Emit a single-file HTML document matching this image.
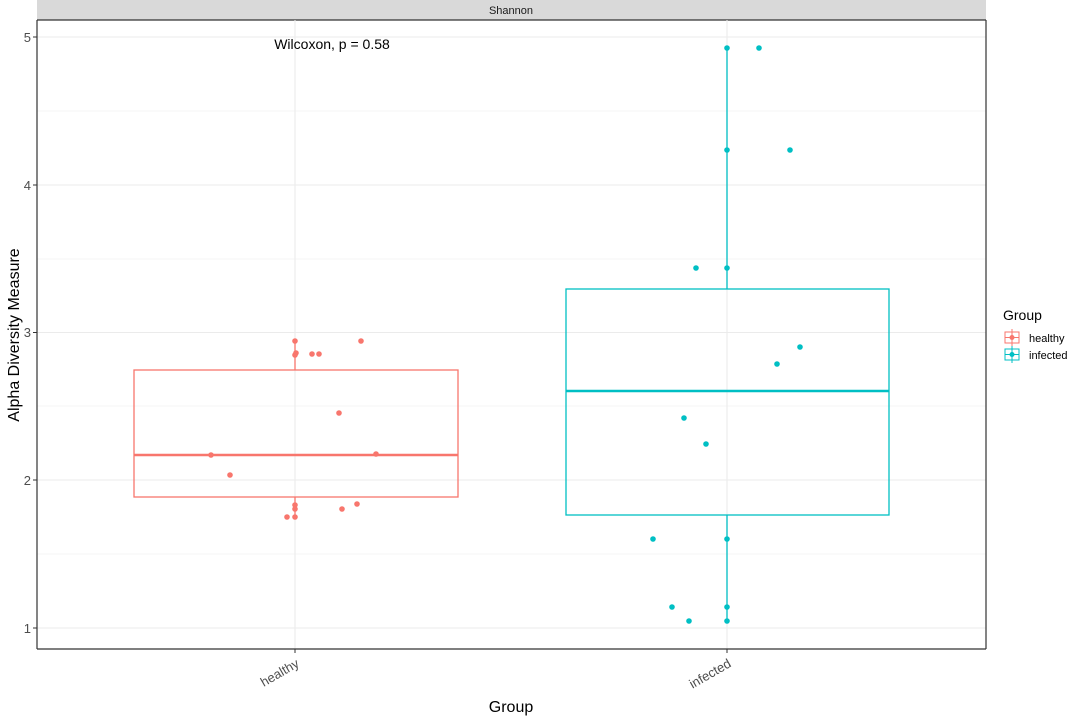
<!DOCTYPE html>
<html><head><meta charset="utf-8"><style>body{margin:0;background:#fff}svg{display:block;font-family:"Liberation Sans",sans-serif}</style></head><body>
<svg width="1080" height="721" viewBox="0 0 1080 721">
<rect x="37" y="0" width="949" height="20" fill="#d9d9d9"/>
<line x1="37" y1="20" x2="986" y2="20" stroke="#333" stroke-width="1.2"/>
<text x="511" y="14" font-size="11" text-anchor="middle" fill="#1a1a1a">Shannon</text>
<g stroke="#ebebeb" stroke-width="0.6">
<line x1="37" x2="986" y1="111" y2="111"/><line x1="37" x2="986" y1="259" y2="259"/><line x1="37" x2="986" y1="406" y2="406"/><line x1="37" x2="986" y1="554" y2="554"/></g>
<g stroke="#ebebeb" stroke-width="1.1">
<line x1="37" x2="986" y1="37" y2="37"/><line x1="37" x2="986" y1="185" y2="185"/><line x1="37" x2="986" y1="332.5" y2="332.5"/><line x1="37" x2="986" y1="480" y2="480"/><line x1="37" x2="986" y1="628" y2="628"/>
<line x1="295" x2="295" y1="20" y2="649"/><line x1="727" x2="727" y1="20" y2="649"/></g>
<line x1="37" y1="20" x2="37" y2="649" stroke="#333" stroke-width="1.2"/>
<line x1="986" y1="20" x2="986" y2="649" stroke="#333" stroke-width="1.2"/>
<line x1="37" y1="649" x2="986" y2="649" stroke="#333" stroke-width="1.2"/>
<g stroke="#333"><line x1="33" x2="37" y1="37" y2="37"/><line x1="33" x2="37" y1="185" y2="185"/><line x1="33" x2="37" y1="332.5" y2="332.5"/><line x1="33" x2="37" y1="480" y2="480"/><line x1="33" x2="37" y1="628" y2="628"/><line x1="295" x2="295" y1="649" y2="653"/><line x1="727" x2="727" y1="649" y2="653"/></g>
<g font-size="13" fill="#4d4d4d" text-anchor="end"><text x="31" y="42">5</text><text x="31" y="190">4</text><text x="31" y="337">3</text><text x="31" y="485">2</text><text x="31" y="633">1</text></g>
<text x="300" y="666" font-size="13" fill="#4d4d4d" text-anchor="end" transform="rotate(-30 300 666)">healthy</text>
<text x="732" y="666" font-size="13" fill="#4d4d4d" text-anchor="end" transform="rotate(-30 732 666)">infected</text>
<text x="511" y="712" font-size="16" text-anchor="middle">Group</text>
<text x="19" y="335" font-size="16" text-anchor="middle" transform="rotate(-90 19 335)">Alpha Diversity Measure</text>
<text x="332" y="49" font-size="14" text-anchor="middle">Wilcoxon, p = 0.58</text>
<g stroke="#F8766D" stroke-width="1.3" fill="none">
<line x1="295" x2="295" y1="340" y2="370"/><line x1="295" x2="295" y1="497" y2="517"/>
<rect x="134" y="370" width="324" height="127"/><line x1="134" x2="458" y1="455" y2="455" stroke-width="2.4"/></g>
<g stroke="#00BFC4" stroke-width="1.3" fill="none">
<line x1="727" x2="727" y1="48" y2="289"/><line x1="727" x2="727" y1="515" y2="621"/>
<rect x="566" y="289" width="323" height="226"/><line x1="566" x2="889" y1="391" y2="391" stroke-width="2.4"/></g>
<g fill="#F8766D"><circle cx="211" cy="455" r="2.8"/><circle cx="230" cy="475" r="2.8"/><circle cx="295" cy="341" r="2.8"/><circle cx="296" cy="353" r="2.8"/><circle cx="295" cy="355" r="2.8"/><circle cx="312" cy="354" r="2.8"/><circle cx="319" cy="354" r="2.8"/><circle cx="361" cy="341" r="2.8"/><circle cx="339" cy="413" r="2.8"/><circle cx="376" cy="454" r="2.8"/><circle cx="295" cy="505" r="2.8"/><circle cx="295" cy="509" r="2.8"/><circle cx="287" cy="517" r="2.8"/><circle cx="295" cy="517" r="2.8"/><circle cx="342" cy="509" r="2.8"/><circle cx="357" cy="504" r="2.8"/></g>
<g fill="#00BFC4"><circle cx="727" cy="48" r="2.8"/><circle cx="759" cy="48" r="2.8"/><circle cx="727" cy="150" r="2.8"/><circle cx="790" cy="150" r="2.8"/><circle cx="696" cy="268" r="2.8"/><circle cx="727" cy="268" r="2.8"/><circle cx="800" cy="347" r="2.8"/><circle cx="777" cy="364" r="2.8"/><circle cx="684" cy="418" r="2.8"/><circle cx="706" cy="444" r="2.8"/><circle cx="653" cy="539" r="2.8"/><circle cx="727" cy="539" r="2.8"/><circle cx="672" cy="607" r="2.8"/><circle cx="727" cy="607" r="2.8"/><circle cx="689" cy="621" r="2.8"/><circle cx="727" cy="621" r="2.8"/></g>
<text x="1003" y="320" font-size="14">Group</text>
<g stroke="#F8766D" fill="none"><rect x="1005" y="332" width="14" height="11"/><line x1="1005" x2="1019" y1="337.5" y2="337.5"/><line x1="1012" x2="1012" y1="329" y2="346"/></g><circle cx="1012" cy="337.5" r="2.5" fill="#F8766D"/>
<g stroke="#00BFC4" fill="none"><rect x="1005" y="349" width="14" height="11"/><line x1="1005" x2="1019" y1="354.5" y2="354.5"/><line x1="1012" x2="1012" y1="346" y2="363"/></g><circle cx="1012" cy="354.5" r="2.5" fill="#00BFC4"/>
<text x="1029" y="342" font-size="11">healthy</text>
<text x="1029" y="359" font-size="11">infected</text>
</svg>
</body></html>
